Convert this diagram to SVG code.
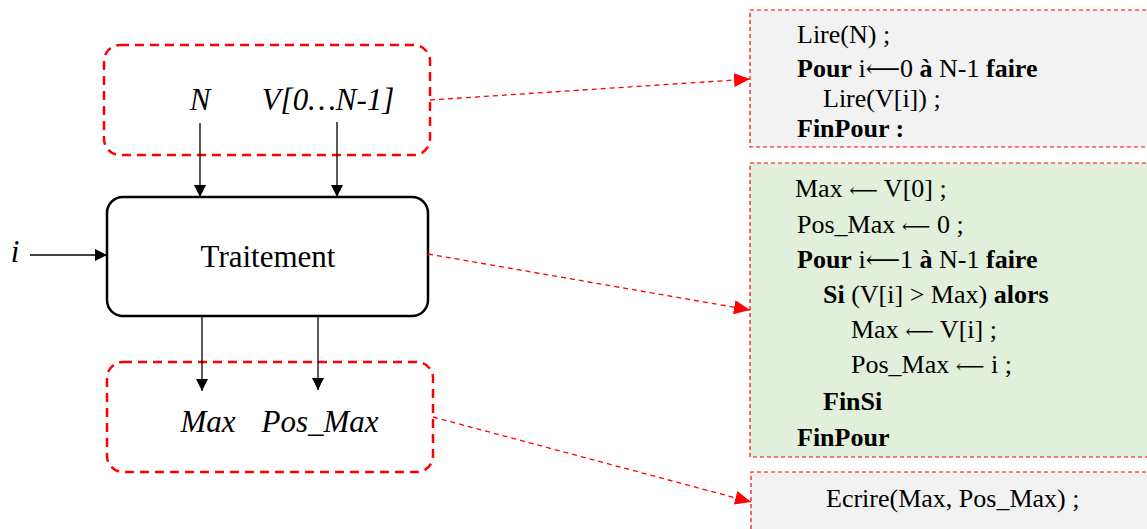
<svg xmlns="http://www.w3.org/2000/svg" width="1147" height="529" viewBox="0 0 1147 529">
<style>
.grp{fill:none;stroke:#ff0000;stroke-width:2.5;stroke-dasharray:9,6}
.proc{fill:#ffffff;stroke:#000000;stroke-width:2.5}
.code{stroke:#ff0000;stroke-width:1.2;stroke-dasharray:4,3}
.lbl{font-family:"Liberation Serif","Times New Roman",serif;font-size:31px;fill:#000}
.it{font-style:italic}
.ct{font-family:"Liberation Serif","Times New Roman",serif;font-size:26px;fill:#000}
.b{font-weight:bold}
.ar{font-family:"DejaVu Serif",serif;font-size:24px}
.ar2{font-family:"DejaVu Serif",serif;font-size:20px}
.arr{stroke:#000;stroke-width:1.3;fill:none}
.rc{stroke:#ff0000;stroke-width:1.3;stroke-dasharray:5,4;fill:none}
</style>
<defs>
<marker id="ah" markerWidth="12" markerHeight="12" refX="12" refY="6" orient="auto" markerUnits="userSpaceOnUse"><path d="M0,0 L12,6 L0,12 Z" fill="#000"/></marker>
<marker id="rh" markerWidth="16" markerHeight="14" refX="16" refY="7" orient="auto" markerUnits="userSpaceOnUse"><path d="M0,0 L16,7 L0,14 Z" fill="#ff0000"/></marker>
</defs>
<rect x="0" y="0" width="1147" height="529" fill="#ffffff"/>

<g id="inputs">
<rect class="grp" x="104" y="45" width="326" height="110" rx="16"/>
<text class="lbl it" x="200" y="110" text-anchor="middle">N</text>
<text class="lbl it" x="328" y="110" text-anchor="middle">V[0…N-1]</text>
</g>

<g id="traitement">
<rect class="proc" x="107" y="197" width="321" height="119" rx="16"/>
<text class="lbl" x="268" y="267" text-anchor="middle">Traitement</text>
</g>

<g id="outputs">
<rect class="grp" x="107" y="362" width="326" height="110" rx="16"/>
<text class="lbl it" x="208" y="432" text-anchor="middle">Max</text>
<text class="lbl it" x="320" y="432" text-anchor="middle">Pos_Max</text>
</g>

<g id="label-i">
<text class="lbl it" x="15" y="262" text-anchor="middle">i</text>
</g>

<g id="code-lecture">
<rect x="750" y="10" width="410" height="137" fill="#f2f2f2"/>
<path class="code" d="M1160,10 H750 V147 H1160" fill="none"/>
<text class="ct" x="797" y="43">Lire(N) ;</text>
<text class="ct" x="797" y="77"><tspan class="b">Pour</tspan> i<tspan class="ar">⟵</tspan>0 <tspan class="b">à</tspan> N-1 <tspan class="b">faire</tspan></text>
<text class="ct" x="823" y="107">Lire(V[i]) ;</text>
<text class="ct" x="797" y="137"><tspan class="b">FinPour :</tspan></text>
</g>

<g id="code-traitement">
<rect x="750" y="163" width="410" height="294" fill="#e2efda"/>
<path class="code" d="M1160,163 H750 V457 H1160" fill="none"/>
<text class="ct" x="795" y="197">Max <tspan class="ar2">⟵</tspan> V[0] ;</text>
<text class="ct" x="797" y="233">Pos_Max <tspan class="ar2">⟵</tspan> 0 ;</text>
<text class="ct" x="797" y="268"><tspan class="b">Pour</tspan> i<tspan class="ar">⟵</tspan>1 <tspan class="b">à</tspan> N-1 <tspan class="b">faire</tspan></text>
<text class="ct" x="823" y="303"><tspan class="b">Si</tspan> (V[i] &gt; Max) <tspan class="b">alors</tspan></text>
<text class="ct" x="851" y="338">Max <tspan class="ar2">⟵</tspan> V[i] ;</text>
<text class="ct" x="851" y="373">Pos_Max <tspan class="ar2">⟵</tspan> i ;</text>
<text class="ct" x="823" y="410"><tspan class="b">FinSi</tspan></text>
<text class="ct" x="797" y="446"><tspan class="b">FinPour</tspan></text>
</g>

<g id="code-ecriture">
<rect x="751" y="472" width="410" height="70" fill="#f2f2f2"/>
<path class="code" d="M1160,472 H751 V540" fill="none"/>
<text class="ct" x="826" y="507">Ecrire(Max, Pos_Max) ;</text>
</g>

<g id="connectors">
<line class="arr" x1="200" y1="123" x2="200" y2="197" marker-end="url(#ah)"/>
<line class="arr" x1="337" y1="122" x2="337" y2="197" marker-end="url(#ah)"/>
<line class="arr" x1="30" y1="255" x2="107" y2="255" marker-end="url(#ah)"/>
<line class="arr" x1="202" y1="316" x2="202" y2="391" marker-end="url(#ah)"/>
<line class="arr" x1="318" y1="316" x2="318" y2="390" marker-end="url(#ah)"/>
<line class="rc" x1="430" y1="100" x2="750" y2="79" marker-end="url(#rh)"/>
<line class="rc" x1="428" y1="254" x2="750" y2="310" marker-end="url(#rh)"/>
<line class="rc" x1="433" y1="417" x2="751" y2="502" marker-end="url(#rh)"/>
</g>
</svg>
